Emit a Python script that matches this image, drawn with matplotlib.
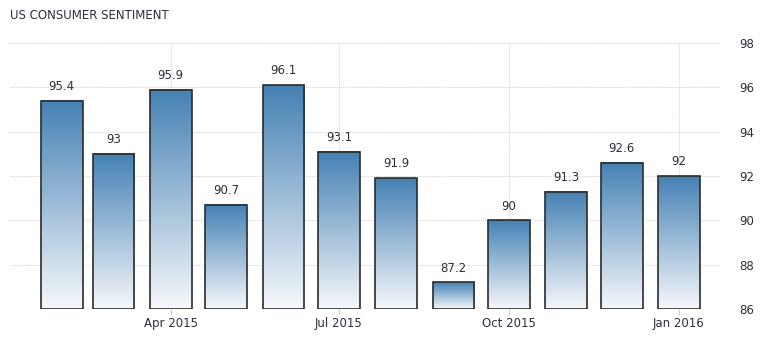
import numpy as np
import pandas as pd
import matplotlib
matplotlib.use('Agg')
import matplotlib.pyplot as plt
import matplotlib.dates as mdates
from matplotlib.colors import LinearSegmentedColormap

# data
months = pd.date_range('2015-02-01', periods=12, freq='MS')
values = [95.4, 93, 95.9, 90.7, 96.1, 93.1, 91.9, 87.2, 90, 91.3, 92.6, 92]
labels = ['95.4', '93', '95.9', '90.7', '96.1', '93.1', '91.9', '87.2', '90', '91.3', '92.6', '92']
tick_dates = pd.to_datetime(['2015-04-01', '2015-07-01', '2015-10-01', '2016-01-01'])
tick_labels = ['Apr 2015', 'Jul 2015', 'Oct 2015', 'Jan 2016']

txt = '#2e2e3a'
cmap = LinearSegmentedColormap.from_list('bar', ['#f6f8fb', '#4581b4'])

fig = plt.figure(figsize=(7.73, 3.43), dpi=100)
ax = fig.add_axes([0.0129, 0.0991, 0.918, 0.7755])

ymin, ymax = 86, 98
x = mdates.date2num(months)
w = 22.6  # days
grad = np.linspace(0, 1, 256).reshape(-1, 1)
for xi, v, lab in zip(x, values, labels):
    ax.imshow(grad, cmap=cmap, origin='lower', aspect='auto',
              extent=[xi - w / 2, xi + w / 2, ymin, v], zorder=2)
    ax.add_patch(plt.Rectangle((xi - w / 2, ymin), w, v - ymin, fill=False,
                               edgecolor='#2b2b2b', linewidth=1.2, zorder=3))
    ax.text(xi, v + 0.35, lab, ha='center', va='bottom', fontsize=8.5, color=txt)

ax.set_xlim(mdates.date2num(pd.Timestamp('2015-01-04')), mdates.date2num(pd.Timestamp('2016-01-23')))
ax.set_ylim(ymin, ymax)
ax.set_yticks(np.arange(86, 99, 2))
ax.yaxis.tick_right()
ax.set_xticks(mdates.date2num(tick_dates))
ax.set_xticklabels(tick_labels)
ax.tick_params(axis='x', length=4, color='#cccccc', labelsize=8.5, labelcolor=txt, pad=2)
ax.tick_params(axis='y', length=0, labelsize=8.5, labelcolor=txt, pad=14)
ax.grid(True, linestyle=(0, (1, 1)), color='#d2d2d2', linewidth=0.7, zorder=0)
ax.set_axisbelow(True)
for s in ax.spines.values():
    s.set_visible(False)

fig.text(0.0129, 0.935, 'US CONSUMER SENTIMENT', fontsize=8.5, color=txt, ha='left', va='bottom')

fig.savefig('out.png', dpi=100)
